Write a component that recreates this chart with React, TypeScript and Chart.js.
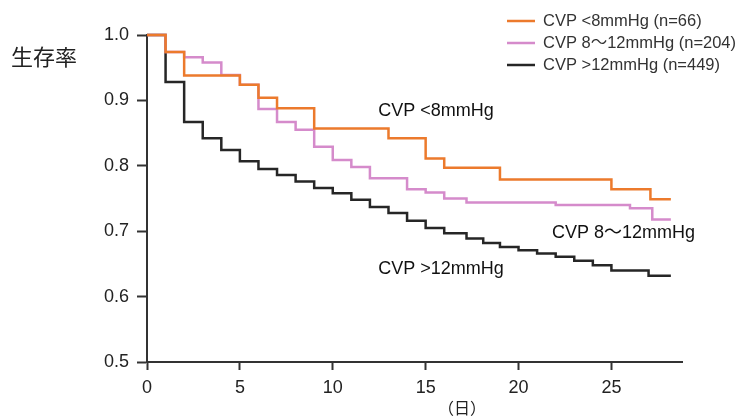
import React, { useEffect, useRef } from "react";
import { Chart, registerables } from "chart.js";

Chart.register(...registerables);

// ---- data ----
const seriesLabels = ["CVP <8mmHg (n=66)", "CVP 8～12mmHg (n=204)", "CVP >12mmHg (n=449)"];
const seriesColors = ["#EC7A2C", "#D58BCB", "#262626"];

const lowDays = [0, 1, 2, 5, 6, 7, 9, 13, 15, 16, 19, 25, 27.1, 28.2];
const lowSurv = [1.0, 0.974, 0.938, 0.924, 0.904, 0.888, 0.857, 0.842, 0.811, 0.797, 0.779, 0.764, 0.749, 0.749];

const midDays = [0, 1, 2, 3, 4, 5, 6, 7, 8, 9, 10, 11, 12, 14, 15, 16, 17.2, 22, 26, 27.2, 28.2];
const midSurv = [1.0, 0.974, 0.966, 0.958, 0.939, 0.924, 0.887, 0.867, 0.855, 0.829, 0.809, 0.798, 0.781, 0.764, 0.759, 0.75, 0.744, 0.74, 0.735, 0.718, 0.718];

const highDays = [0, 1, 2, 3, 4, 5, 6, 7, 8, 9, 10, 11, 12, 13, 14, 15, 16, 17.2, 18.1, 19, 20, 21, 22, 23, 24, 25, 27, 28.2];
const highSurv = [1.0, 0.928, 0.867, 0.842, 0.824, 0.807, 0.795, 0.786, 0.776, 0.766, 0.758, 0.748, 0.737, 0.728, 0.716, 0.705, 0.697, 0.689, 0.682, 0.676, 0.671, 0.666, 0.661, 0.655, 0.648, 0.64, 0.632, 0.632];

const xTicks = [0, 5, 10, 15, 20, 25];
const yTicks = [0.5, 0.6, 0.7, 0.8, 0.9, 1.0];

const curveNotes = ["CVP <8mmHg", "CVP 8～12mmHg", "CVP >12mmHg"];
const yTitle = "生存率";
const xTitle = "（日）";

// ---- layout / style ----
const W = 741;
const H = 416;
const notePos = [
  { d: 12.45, v: 0.876 },
  { d: 21.8, v: 0.69 },
  { d: 12.45, v: 0.634 },
];
const LATIN = 'Arial, "Liberation Sans", "Noto Sans CJK JP", sans-serif';
const CJK = '"Noto Sans CJK JP", "Noto Sans CJK SC", sans-serif';

function toPoints(days: number[], surv: number[]) {
  return days.map((d, i) => ({ x: d, y: surv[i] }));
}

const textPlugin = {
  id: "kmText",
  afterDraw(chart: any) {
    const ctx = chart.ctx as CanvasRenderingContext2D;
    const xs = chart.scales.x;
    const ys = chart.scales.y;
    ctx.save();
    // y title
    ctx.fillStyle = "#222";
    ctx.font = `22px ${CJK}`;
    ctx.textAlign = "left";
    ctx.textBaseline = "middle";
    ctx.fillText(yTitle, 11, 57);
    // x title
    ctx.font = `16px ${CJK}`;
    ctx.textAlign = "center";
    ctx.fillText(xTitle, 462, 408);
    // curve notes
    ctx.fillStyle = "#111";
    ctx.font = `18px ${LATIN}`;
    ctx.textAlign = "left";
    ctx.textBaseline = "alphabetic";
    curveNotes.forEach((t, i) => {
      ctx.fillText(t, xs.getPixelForValue(notePos[i].d), ys.getPixelForValue(notePos[i].v));
    });
    // legend
    ctx.font = `16.5px ${LATIN}`;
    ctx.textBaseline = "middle";
    ctx.lineWidth = 2.5;
    seriesLabels.forEach((t, i) => {
      const y = 21 + i * 22;
      ctx.strokeStyle = seriesColors[i];
      ctx.beginPath();
      ctx.moveTo(507, y);
      ctx.lineTo(535, y);
      ctx.stroke();
      ctx.fillStyle = "#333";
      ctx.fillText(t, 543, y);
    });
    ctx.restore();
  },
};

export default function App() {
  const ref = useRef<HTMLCanvasElement | null>(null);

  useEffect(() => {
    if (!ref.current) return;
    const series = [
      [lowDays, lowSurv],
      [midDays, midSurv],
      [highDays, highSurv],
    ];
    const chart = new Chart(ref.current, {
      type: "line",
      data: {
        datasets: series.map(([d, s], i) => ({
          label: seriesLabels[i],
          data: toPoints(d as number[], s as number[]),
          borderColor: seriesColors[i],
          backgroundColor: seriesColors[i],
          borderWidth: 2.5,
          stepped: "before" as const,
          pointRadius: 0,
          fill: false,
          clip: false as any,
        })),
      },
      options: {
        responsive: false,
        animation: false,
        events: [],
        layout: { padding: { top: 35, right: 59, left: 0, bottom: 0 } },
        plugins: {
          legend: { display: false },
          tooltip: { enabled: false },
        },
        scales: {
          x: {
            type: "linear",
            min: 0,
            max: 28.8,
            afterFit: (s: any) => {
              s.height = 54;
            },
            afterBuildTicks: (s: any) => {
              s.ticks = xTicks.map((v) => ({ value: v }));
            },
            grid: {
              display: true,
              drawOnChartArea: false,
              drawTicks: true,
              tickLength: 8,
              tickWidth: 2,
              tickColor: "#333",
            },
            border: { display: true, color: "#333", width: 2 },
            ticks: {
              padding: 7,
              color: "#222",
              font: { size: 18, family: LATIN },
              maxRotation: 0,
              callback: (v: any) => String(v),
            },
          },
          y: {
            type: "linear",
            min: 0.5,
            max: 1.0,
            afterFit: (s: any) => {
              s.width = 147;
            },
            afterBuildTicks: (s: any) => {
              s.ticks = yTicks.map((v) => ({ value: v }));
            },
            grid: {
              display: true,
              drawOnChartArea: false,
              drawTicks: true,
              tickLength: 10,
              tickWidth: 2,
              tickColor: "#333",
            },
            border: { display: true, color: "#333", width: 2 },
            ticks: {
              padding: 8,
              color: "#222",
              font: { size: 18, family: LATIN },
              callback: (v: any) => Number(v).toFixed(1),
            },
          },
        },
      },
      plugins: [textPlugin],
    });
    return () => chart.destroy();
  }, []);

  return (
    <div style={{ position: "fixed", left: 0, top: 0, width: W, height: H, background: "#fff" }}>
      <canvas ref={ref} width={W} height={H} style={{ width: W, height: H, display: "block" }} />
    </div>
  );
}
